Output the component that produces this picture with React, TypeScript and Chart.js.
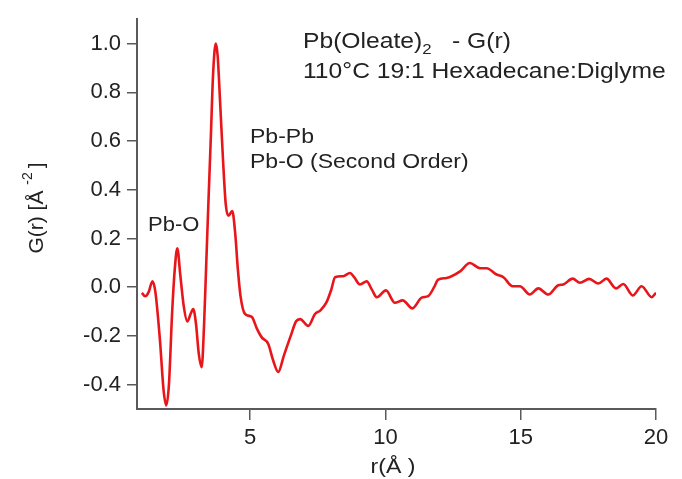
import React, { useEffect, useRef } from "react";
import { Chart, registerables } from "chart.js";

Chart.register(...registerables);

// Pair distribution function G(r) for Pb(oleate)2 in solution
const rValues = [
  1.0, 1.12, 1.25, 1.39, 1.5, 1.67, 1.8, 1.9, 2.0, 2.12, 2.22, 2.31, 2.42, 2.55, 2.68, 2.8, 2.9, 3.0, 3.1, 3.21,
  3.3, 3.38, 3.46, 3.55, 3.63, 3.73, 3.8, 3.9, 4.0, 4.1, 4.2, 4.34, 4.45, 4.55, 4.65, 4.81, 5.06, 5.25, 5.43, 5.67,
  5.85, 6.04, 6.25, 6.5, 6.7, 6.85, 7.15, 7.4, 7.6, 7.83, 8.0, 8.14, 8.44, 8.69, 8.85, 9.06, 9.31, 9.5, 9.68, 10.02,
  10.35, 10.64, 11.0, 11.34, 11.58, 11.8, 11.95, 12.26, 12.76, 13.12, 13.5, 13.74, 14.11, 14.36, 14.7, 14.97, 15.34,
  15.65, 16.02, 16.39, 16.57, 16.92, 17.19, 17.53, 17.87, 18.17, 18.52, 18.79, 19.14, 19.47, 19.84, 20.0,
];
const gValues = [
  -0.023, -0.037, -0.02, 0.024, -0.02, -0.22, -0.42, -0.485, -0.4, -0.1, 0.08, 0.16, 0.05, -0.08, -0.141, -0.11, -0.09,
  -0.15, -0.27, -0.328, -0.15, 0.1, 0.35, 0.62, 0.87, 1.0, 0.95, 0.74, 0.52, 0.34, 0.293, 0.313, 0.22, 0.07, -0.04,
  -0.11, -0.122, -0.17, -0.206, -0.233, -0.3, -0.348, -0.28, -0.2, -0.14, -0.131, -0.159, -0.11, -0.095, -0.06, -0.01,
  0.041, 0.045, 0.058, 0.04, 0.011, 0.024, -0.01, -0.041, -0.013, -0.064, -0.054, -0.087, -0.043, -0.037, 0.0, 0.031,
  0.038, 0.065, 0.099, 0.078, 0.078, 0.052, 0.041, 0.004, 0.004, -0.03, -0.005, -0.03, 0.008, 0.011, 0.035, 0.018,
  0.034, 0.015, 0.035, -0.005, 0.013, -0.034, 0.004, -0.041, -0.023,
];

const xTicks = [5, 10, 15, 20];
const yTicks = [-0.4, -0.2, 0.0, 0.2, 0.4, 0.6, 0.8, 1.0];

const FONT = "'Liberation Sans', Arial, sans-serif";
const TEXT = "#222222";
const AXIS = "#5a5a5a";
const LINE = "#e8151b";

// draws text widened horizontally by `wide`; returns the drawn width
function wideText(
  ctx: CanvasRenderingContext2D,
  text: string,
  x: number,
  y: number,
  size: number,
  wide: number,
  align = "left"
) {
  ctx.font = `${size}px ${FONT}`;
  const w = ctx.measureText(text).width * wide;
  const left = align === "center" ? x - w / 2 : x;
  ctx.save();
  ctx.translate(left, y);
  ctx.scale(wide, 1);
  ctx.textAlign = "left";
  ctx.fillText(text, 0, 0);
  ctx.restore();
  return w;
}

// Free text: title lines, peak labels and axis titles
const labelsPlugin = {
  id: "labels",
  afterDraw(chart: Chart) {
    const ctx = chart.ctx;
    ctx.save();
    ctx.fillStyle = TEXT;
    ctx.textBaseline = "alphabetic";

    // title, line 1 with subscript
    let x = 303;
    x += wideText(ctx, "Pb(Oleate)", x, 48, 22, 1.12);
    x += wideText(ctx, "2", x, 54, 15, 1.12);
    wideText(ctx, "   - G(r)", x, 48, 22, 1.12);
    wideText(ctx, "110°C 19:1 Hexadecane:Diglyme", 303, 78, 22, 1.12);

    // peak assignments
    wideText(ctx, "Pb-Pb", 250, 143, 20, 1.15);
    wideText(ctx, "Pb-O (Second Order)", 250, 168, 20, 1.15);
    wideText(ctx, "Pb-O", 148, 231, 20, 1.1);

    // x-axis title
    wideText(ctx, "r(Å )", 393, 473, 21, 1.1, "center");

    // y-axis title with superscript
    ctx.translate(43, 208);
    ctx.rotate(-Math.PI / 2);
    ctx.textAlign = "left";
    const main = "G(r) [Å ";
    const sup = "-2";
    const close = "]";
    ctx.font = `21px ${FONT}`;
    const wMain = ctx.measureText(main).width;
    const wClose = ctx.measureText(close).width;
    ctx.font = `14px ${FONT}`;
    const wSup = ctx.measureText(sup).width;
    const total = wMain + wSup + 4 + wClose;
    let px = -total / 2;
    ctx.font = `21px ${FONT}`;
    ctx.fillText(main, px, 0);
    px += wMain;
    ctx.font = `14px ${FONT}`;
    ctx.fillText(sup, px, -11);
    px += wSup + 4;
    ctx.font = `21px ${FONT}`;
    ctx.fillText(close, px, 0);
    ctx.restore();
  },
};

export default function App() {
  const canvasRef = useRef<HTMLCanvasElement | null>(null);

  useEffect(() => {
    const canvas = canvasRef.current;
    if (!canvas) return;
    const points = rValues.map((r, i) => ({ x: r, y: gValues[i] }));
    const chart = new Chart(canvas, {
      type: "line",
      data: {
        datasets: [
          {
            label: "G(r)",
            data: points,
            borderColor: LINE,
            borderWidth: 2.6,
            pointRadius: 0,
            cubicInterpolationMode: "monotone",
            fill: false,
          },
        ],
      },
      options: {
        animation: false,
        responsive: false,
        maintainAspectRatio: false,
        layout: { padding: { left: 0, top: 15, right: 26, bottom: 0 } },
        plugins: {
          legend: { display: false },
          tooltip: { enabled: false },
          title: { display: false },
        },
        scales: {
          x: {
            type: "linear",
            min: 0.82,
            max: 20,
            afterBuildTicks: (s: any) => {
              s.ticks = xTicks.map((v) => ({ value: v }));
            },
            afterFit: (s: any) => {
              s.height = 70;
            },
            grid: {
              display: true,
              drawOnChartArea: false,
              drawTicks: true,
              tickLength: 11,
              tickColor: AXIS,
              lineWidth: 1.5,
            },
            border: { display: true, color: AXIS, width: 2 },
            ticks: {
              color: TEXT,
              font: { family: FONT, size: 22 },
              padding: 5,
              maxRotation: 0,
              callback: (v: any) => String(v),
            },
          },
          y: {
            type: "linear",
            min: -0.5,
            max: 1.1,
            afterBuildTicks: (s: any) => {
              s.ticks = yTicks.map((v) => ({ value: v }));
            },
            afterFit: (s: any) => {
              s.width = 137;
            },
            grid: {
              display: true,
              drawOnChartArea: false,
              drawTicks: true,
              tickLength: 10,
              tickColor: AXIS,
              lineWidth: 1.5,
            },
            border: { display: true, color: AXIS, width: 2 },
            ticks: {
              color: TEXT,
              font: { family: FONT, size: 22 },
              padding: 6,
              callback: (v: any) => Number(v).toFixed(1),
            },
          },
        },
      },
      plugins: [labelsPlugin],
    });
    return () => chart.destroy();
  }, []);

  return (
    <div style={{ position: "fixed", left: 0, top: 0, width: 682, height: 479, background: "#ffffff" }}>
      <canvas ref={canvasRef} width={682} height={479} style={{ display: "block" }} />
    </div>
  );
}
